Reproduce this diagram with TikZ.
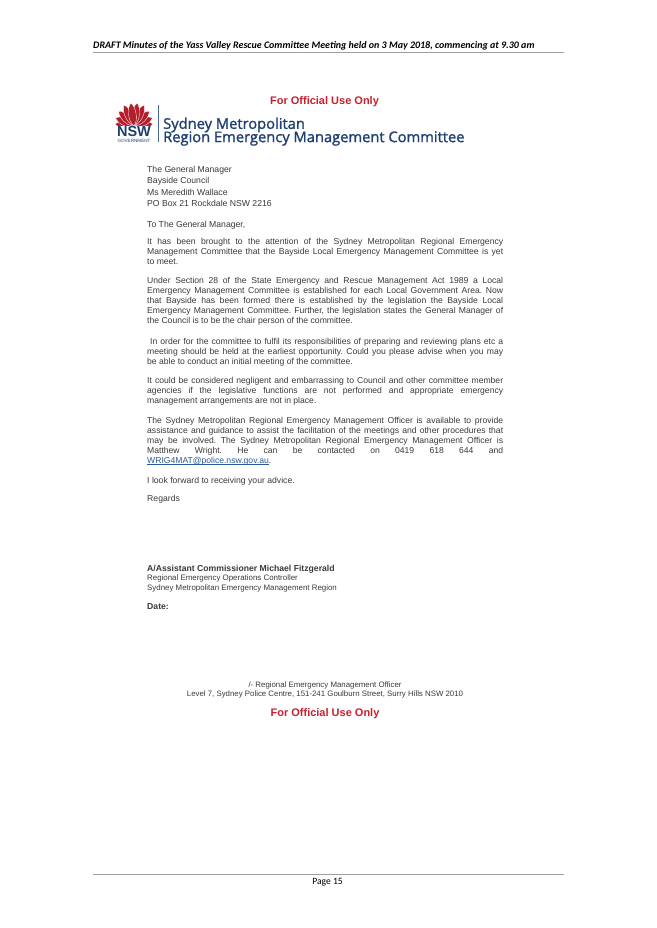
\documentclass[tikz,border=0pt]{standalone}
\usepackage{fontspec}
\setmainfont{Liberation Sans}
\newfontfamily\headfont{Carlito}
\newfontfamily\titlefont[FakeBold=1.4]{Open Sans}
\usepackage{xcolor}
\usetikzlibrary{positioning}
\definecolor{offred}{HTML}{C8202F}
\definecolor{nswblue}{HTML}{1F3F73}
\definecolor{bodygrey}{HTML}{3A3A3A}
\definecolor{linkblue}{HTML}{2A5A9A}
\tikzset{
  bodytext/.style={anchor=north west, inner sep=0pt, text width=356pt, align=justify, font=\frenchspacing\fontsize{8.6}{10}\selectfont, text=bodygrey},
  plaintext/.style={anchor=north west, inner sep=0pt, align=left, font=\fontsize{8.65}{11.4}\selectfont, text=bodygrey},
  smalltext/.style={anchor=north west, inner sep=0pt, align=left, font=\fontsize{7.9}{9.6}\selectfont, text=bodygrey},
  boldtext/.style={anchor=north west, inner sep=0pt, font=\fontsize{8.65}{9.6}\selectfont\bfseries, text=bodygrey},
  footertext/.style={inner sep=0pt, font=\fontsize{7.85}{9.4}\selectfont, text=bodygrey},
  officialtext/.style={inner sep=0pt, font=\fontsize{11}{12}\selectfont\bfseries, text=offred},
  titletext/.style={anchor=west, inner sep=0pt, font=\titlefont\fontsize{14.7}{15}\selectfont, text=nswblue},
  petal/.style={fill=offred!90!black, draw=white, line width=0.35pt},
  ruleline/.style={draw=black!38, line width=1pt}
}
\begin{document}
\begin{tikzpicture}[x=1pt, y=-1pt]
\useasboundingbox (0,0) rectangle (656,928);
\fill[white] (0,0) rectangle (656,928);

% Page head and foot
\node[anchor=west, inner sep=0pt, font=\headfont\fontsize{10}{12}\selectfont\bfseries\itshape] (HEAD) at (93,45.7) {DRAFT Minutes of the Yass Valley Rescue Committee Meeting held on 3 May 2018, commencing at 9.30 am};
\coordinate (HL) at (93,53);
\coordinate (HR) at (564,53);
\draw[ruleline] (HL) -- (HR);
\coordinate (FL) at (93,874.7);
\coordinate (FR) at (564,874.7);
\draw[ruleline] (FL) -- (FR);
\node[inner sep=0pt, font=\headfont\fontsize{9.6}{12}\selectfont] (PAGE) at (327.5,882.5) {Page 15};

% Letterhead
\node[officialtext] (TOP) at (324.5,101.7) {For Official Use Only};
\begin{scope}
\clip (110,98) rectangle (158,125.3);
\foreach \a/\l in {-84/19,84/19,-66/20,66/20,-46/21,46/21,-26/23,26/23,-8/23,8/23}
  \draw[petal, shift={(134,126)}, rotate=\a] (0,0) .. controls (-6,-6) and (-4,-\l+3) .. (0,-\l) .. controls (4,-\l+3) and (6,-6) .. (0,0) -- cycle;
\end{scope}
\node[inner sep=0pt, font=\fontsize{14.5}{15}\selectfont\bfseries, text=nswblue] (NSW) at (134,132) {NSW};
\node[inner sep=0pt, font=\fontsize{4.6}{5}\selectfont, text=nswblue] (GOV) at (134,140.7) {GOVERNMENT};
\coordinate (BT) at (158.7,105);
\coordinate (BB) at (158.7,142);
\draw[nswblue!80, line width=0.6pt] (BT) -- (BB);
\node[titletext] (TITLEA) at (163,125) {Sydney Metropolitan};
\node[titletext] (TITLEB) at (163,138.5) {Region Emergency Management Committee};

% Letter
\node[plaintext] (ADDR) at (147,166) {The General Manager\\Bayside Council\\Ms Meredith Wallace\\PO Box 21 Rockdale NSW 2216};
\node[plaintext] (GREET) at (147,221.3) {To The General Manager,};
\node[bodytext] (PA) at (147,238.3) {It has been brought to the attention of the Sydney Metropolitan Regional Emergency\linebreak Management Committee that the Bayside Local Emergency Management Committee is yet\linebreak to meet.};
\node[bodytext] (PB) at (147,277.3) {Under Section 28 of the State Emergency and Rescue Management Act 1989 a Local\linebreak Emergency Management Committee is established for each Local Government Area. Now\linebreak that Bayside has been formed there is established by the legislation the Bayside Local\linebreak Emergency Management Committee. Further, the legislation states the General Manager of\linebreak the Council is to be the chair person of the committee.};
\node[bodytext] (PC) at (147,338) {~In order for the committee to fulfil its responsibilities of preparing and reviewing plans etc a\linebreak meeting should be held at the earliest opportunity. Could you please advise when you may\linebreak be able to conduct an initial meeting of the committee.};
\node[bodytext] (PD) at (147,377.3) {It could be considered negligent and embarrassing to Council and other committee member\linebreak agencies if the legislative functions are not performed and appropriate emergency\linebreak management arrangements are not in place.};
\node[bodytext] (PE) at (147,416.8) {The Sydney Metropolitan Regional Emergency Management Officer is available to provide\linebreak assistance and guidance to assist the facilitation of the meetings and other procedures that\linebreak may be involved. The Sydney Metropolitan Regional Emergency Management Officer is\linebreak Matthew Wright. He can be contacted on 0419 618 644 and\linebreak {\color{linkblue}\underline{\smash{WRIG4MAT@police.nsw.gov.au}}}.};
\node[plaintext] (FWD) at (147,477) {I look forward to receiving your advice.};
\node[plaintext] (REG) at (147,495.5) {Regards};

% Signature block
\node[boldtext] (SIGN) at (147,565.5) {A/Assistant Commissioner Michael Fitzgerald};
\node[smalltext] (ROLE) at (147,574.5) {Regional Emergency Operations Controller\\Sydney Metropolitan Emergency Management Region};
\node[boldtext] (DATE) at (147,603.5) {Date:};
\node[footertext] (OFFICER) at (325,685) {/- Regional Emergency Management Officer};
\node[footertext] (ADDRESS) at (325,694) {Level 7, Sydney Police Centre, 151-241 Goulburn Street, Surry Hills NSW 2010};
\node[officialtext] (BOTTOM) at (325,714) {For Official Use Only};

\end{tikzpicture}
\end{document}
